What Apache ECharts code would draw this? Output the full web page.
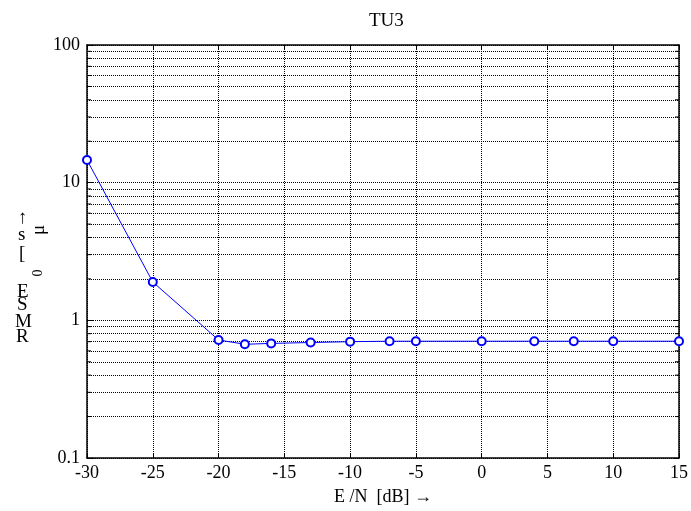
<!DOCTYPE html>
<html><head><meta charset="utf-8">
<script src="https://cdn.jsdelivr.net/npm/echarts@6/dist/echarts.min.js"></script>
<style>html,body{margin:0;padding:0;background:#fff}#c{width:691px;height:511px}</style>
</head><body><div id="c"></div>
<script>
const snr = [-30, -25, -20, -18, -16, -13, -10, -7, -5, 0, 4, 7, 10, 15];
const rmse = [14.6, 1.9, 0.72, 0.67, 0.68, 0.69, 0.70, 0.705, 0.705, 0.705, 0.705, 0.705, 0.705, 0.705];
const gridValues = [0.2,0.3,0.4,0.5,0.6,0.7,0.8,0.9,2,3,4,5,6,7,8,9,20,30,40,50,60,70,80,90];
const titleText = 'TU3';
const xName = 'E /N  [dB] \u2192';

const F = 'Liberation Serif, Times New Roman, serif';
const chart = echarts.init(document.getElementById('c'));
const axisLine = {show:true, onZero:false, lineStyle:{color:'#000', width:1.5}};
chart.setOption({
  animation:false,
  backgroundColor:'#fff',
  title:{text:titleText, left:364, top:7, textStyle:{fontFamily:F, fontWeight:'normal', fontSize:19, color:'#000'}},
  grid:{left:87, right:10, top:45, bottom:49, show:false},
  xAxis:[
    {type:'value', min:-30, max:15, interval:5, position:'bottom',
     axisLine:axisLine, axisTick:{inside:true, length:5, lineStyle:{color:'#000'}},
     axisLabel:{fontFamily:F, fontSize:18, color:'#000', margin:6},
     splitLine:{show:true, lineStyle:{color:'#000', type:'dotted'}},
     name:xName, nameLocation:'middle', nameGap:30, nameTextStyle:{fontFamily:F, fontSize:18, color:'#000'}},
    {type:'value', min:-30, max:15, interval:5, position:'top',
     axisLine:axisLine, axisTick:{inside:true, length:5, lineStyle:{color:'#000'}},
     axisLabel:{show:false}, splitLine:{show:false}}
  ],
  yAxis:[
    {type:'log', logBase:10, min:0.1, max:100, position:'left',
     axisLine:axisLine, axisTick:{inside:true, length:6, lineStyle:{color:'#000'}},
     axisLabel:{fontFamily:F, fontSize:18, color:'#000', margin:7},
     splitLine:{show:true, lineStyle:{color:'#000', type:'dotted'}}},
    {type:'log', logBase:10, min:0.1, max:100, position:'right',
     axisLine:axisLine, axisTick:{inside:true, length:6, lineStyle:{color:'#000'}},
     axisLabel:{show:false}, splitLine:{show:false}}
  ],
  series:[{
    type:'line', data:snr.map((x,i)=>[x, rmse[i]]),
    symbol:'emptyCircle', symbolSize:8, z:5,
    lineStyle:{color:'#0000ff', width:1}, itemStyle:{color:'#0000ff', borderWidth:1},
    markLine:{silent:true, symbol:'none', label:{show:false}, lineStyle:{color:'#000', type:'dotted', width:1},
      data:gridValues.map(v=>({yAxis:v}))}
  },{
    type:'custom', silent:true, z:4,
    data:gridValues.map(v=>[v]),
    renderItem:function(params, api){
      const v = api.value(0);
      const l = api.coord([-30, v]);
      const r = api.coord([15, v]);
      const st = {stroke:'#000', lineWidth:1};
      return {type:'group', children:[
        {type:'line', shape:{x1:l[0], y1:l[1], x2:l[0]+4, y2:l[1]}, style:st},
        {type:'line', shape:{x1:r[0]-4, y1:r[1], x2:r[0], y2:r[1]}, style:st}
      ]};
    }
  }],
  graphic:[
    {type:'text', left:16, top:328, style:{text:'R', font:'19px '+F, fill:'#000'}},
    {type:'text', left:15, top:313, style:{text:'M', font:'19px '+F, fill:'#000'}},
    {type:'text', left:17, top:296, style:{text:'S', font:'19px '+F, fill:'#000'}},
    {type:'text', left:17, top:283, style:{text:'E', font:'19px '+F, fill:'#000'}},
    {type:'text', x:38, y:273, rotation:Math.PI/2, style:{text:'0', font:'14px '+F, fill:'#000', align:'center', verticalAlign:'middle'}},
    {type:'text', left:19, top:245, style:{text:'[', font:'19px '+F, fill:'#000'}},
    {type:'text', left:18, top:226, style:{text:'s', font:'19px '+F, fill:'#000'}},
    {type:'text', x:39, y:230, rotation:Math.PI/2, style:{text:'\u03bc', font:'19px '+F, fill:'#000', align:'center', verticalAlign:'middle'}},
    {type:'text', x:21, y:218, rotation:Math.PI/2, style:{text:'\u2192', font:'19px '+F, fill:'#000', align:'center', verticalAlign:'middle'}}
  ]
});
</script></body></html>
